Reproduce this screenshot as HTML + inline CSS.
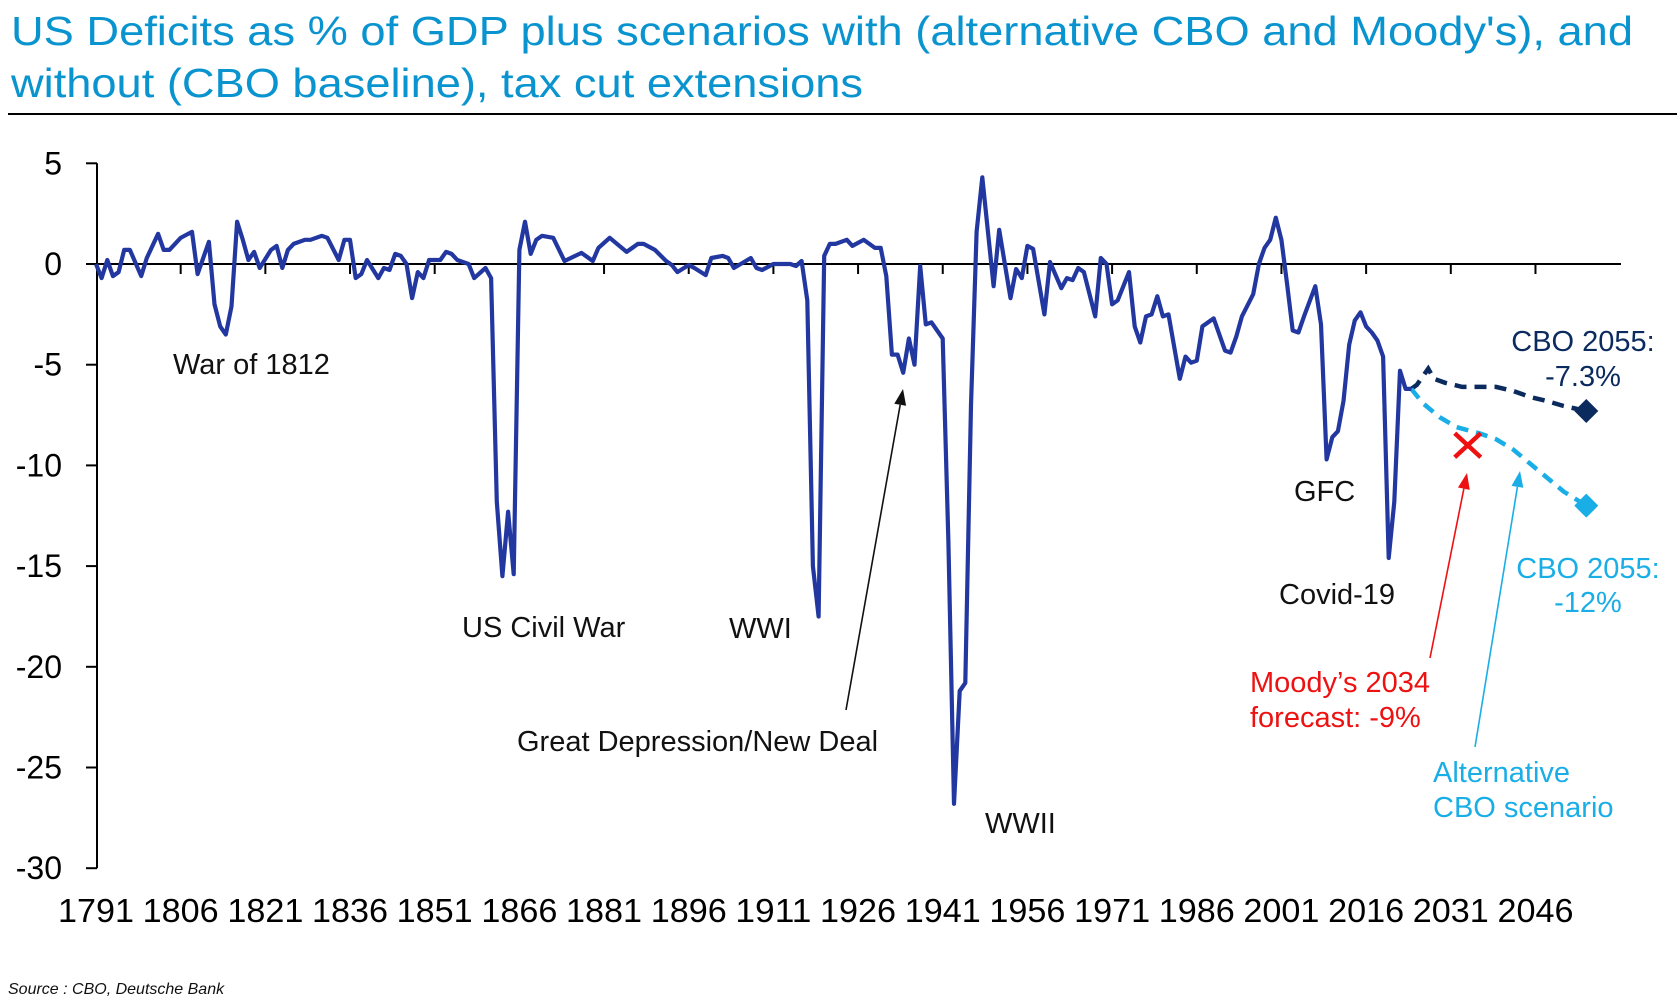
<!DOCTYPE html>
<html><head><meta charset="utf-8"><style>
html,body{margin:0;padding:0;background:#fff;}
svg{display:block;font-family:"Liberation Sans",sans-serif;}
</style></head><body>
<svg id="chart" width="1677" height="997" viewBox="0 0 1677 997" xmlns="http://www.w3.org/2000/svg">
<text x="11" y="45" font-size="41" fill="#0a94cf" textLength="1622" lengthAdjust="spacingAndGlyphs">US Deficits as % of GDP plus scenarios with (alternative CBO and Moody's), and</text>
<text x="11" y="97" font-size="41" fill="#0a94cf" textLength="852" lengthAdjust="spacingAndGlyphs">without (CBO baseline), tax cut extensions</text>
<line x1="8" y1="114" x2="1677" y2="114" stroke="#000" stroke-width="2"/>
<g id="axes"></g>
<g id="series"></g>
<g id="notes" font-size="29">
<text x="173" y="374" fill="#111">War of 1812</text>
<text x="462" y="637" fill="#111">US Civil War</text>
<text x="729" y="638" fill="#111">WWI</text>
<text x="517" y="751" fill="#111">Great Depression/New Deal</text>
<text x="985" y="833" fill="#111">WWII</text>
<text x="1294" y="501" fill="#111">GFC</text>
<text x="1279" y="604" fill="#111">Covid-19</text>
<text x="1583" y="351" text-anchor="middle" fill="#0b2a5e">CBO 2055:</text>
<text x="1583" y="386" text-anchor="middle" fill="#0b2a5e">-7.3%</text>
<text x="1588" y="578" text-anchor="middle" fill="#1aaee6">CBO 2055:</text>
<text x="1588" y="612" text-anchor="middle" fill="#1aaee6">-12%</text>
<text x="1250" y="692" fill="#ee1111">Moody’s 2034</text>
<text x="1250" y="727" fill="#ee1111">forecast: -9%</text>
<text x="1433" y="782" fill="#1aaee6">Alternative</text>
<text x="1433" y="817" fill="#1aaee6">CBO scenario</text>
</g>
<text x="8" y="994" font-size="16" font-style="italic" fill="#111">Source : CBO, Deutsche Bank</text>
</svg>
<script>
const histYears = [1791,1792,1793,1794,1795,1796,1797,1799,1800,1802,1803,1804,1806,1808,1809,1811,1812,1813,1814,1815,1816,1817,1818,1819,1820,1822,1823,1824,1825,1826,1828,1829,1831,1832,1834,1835,1836,1837,1838,1839,1841,1842,1843,1844,1845,1846,1847,1848,1849,1850,1852,1853,1854,1855,1857,1858,1860,1861,1862,1863,1864,1865,1866,1867,1868,1869,1870,1872,1874,1877,1879,1880,1882,1885,1887,1888,1890,1892,1893,1894,1896,1897,1899,1900,1902,1903,1904,1907,1908,1909,1911,1914,1915,1916,1917,1918,1919,1920,1921,1922,1924,1925,1927,1929,1930,1931,1932,1933,1934,1935,1936,1937,1938,1939,1941,1942,1943,1944,1945,1946,1947,1948,1950,1951,1953,1954,1955,1956,1957,1959,1960,1962,1963,1964,1965,1966,1968,1969,1970,1971,1972,1974,1975,1976,1977,1978,1979,1980,1981,1983,1984,1985,1986,1987,1989,1991,1992,1993,1994,1996,1997,1998,1999,2000,2001,2002,2003,2004,2005,2007,2008,2009,2010,2011,2012,2013,2014,2015,2016,2017,2018,2019,2020,2021,2022,2023,2024];
const histDeficit = [0,-0.7,0.2,-0.6,-0.4,0.7,0.7,-0.6,0.3,1.5,0.7,0.7,1.3,1.6,-0.5,1.1,-2,-3.1,-3.5,-2.1,2.1,1.2,0.2,0.6,-0.2,0.7,0.9,-0.2,0.7,1,1.2,1.2,1.4,1.3,0.2,1.2,1.2,-0.7,-0.5,0.2,-0.7,-0.2,-0.3,0.5,0.4,0,-1.7,-0.4,-0.7,0.2,0.2,0.6,0.5,0.2,0,-0.7,-0.2,-0.7,-11.8,-15.5,-12.3,-15.4,0.7,2.1,0.5,1.2,1.4,1.3,0.15,0.55,0.15,0.8,1.3,0.6,1.0,1.0,0.7,0.15,-0.05,-0.4,-0.05,-0.2,-0.55,0.3,0.4,0.3,-0.2,0.3,-0.2,-0.3,0,0,-0.1,0.15,-1.8,-15,-17.5,0.4,1.0,1.0,1.2,0.9,1.2,0.8,0.8,-0.6,-4.5,-4.5,-5.4,-3.7,-5.0,-0.1,-3.0,-2.9,-3.7,-13.8,-26.8,-21.2,-20.8,-7,1.6,4.3,-1.1,1.7,-1.7,-0.25,-0.7,0.9,0.75,-2.5,0.1,-1.2,-0.7,-0.8,-0.2,-0.4,-2.6,0.3,0,-2.0,-1.8,-0.4,-3.1,-3.9,-2.6,-2.5,-1.6,-2.6,-2.5,-5.7,-4.6,-4.9,-4.8,-3.1,-2.7,-4.3,-4.4,-3.6,-2.6,-1.5,0,0.8,1.2,2.3,1.2,-1.0,-3.3,-3.4,-2.6,-1.1,-3.0,-9.7,-8.6,-8.3,-6.8,-4.0,-2.8,-2.4,-3.1,-3.4,-3.8,-4.6,-14.6,-11.8,-5.3,-6.2,-6.2];
const projYears = [2024,2025,2027,2028,2030,2033,2036,2039,2042,2045,2048,2051,2055];
const cboBaseline = [-6.2,-6.0,-5.2,-5.7,-5.9,-6.1,-6.1,-6.1,-6.3,-6.6,-6.8,-7.05,-7.3];
const altYears = [2024,2026,2029,2032,2036,2039,2042,2045,2048,2051,2055];
const cboAlternative = [-6.2,-6.9,-7.6,-8.1,-8.4,-8.7,-9.2,-9.9,-10.6,-11.3,-12.0];
const moodysYear = [2034];
const moodysValue = [-9];
const yTicks = [5,0,-5,-10,-15,-20,-25,-30];
const xTickYears = [1791,1806,1821,1836,1851,1866,1881,1896,1911,1926,1941,1956,1971,1986,2001,2016,2031,2046];

const NS = "http://www.w3.org/2000/svg";
const X = yr => 96 + (yr - 1791) * 5.645;
const Y = v => 264 - v * 20.14;
function mk(tag, attrs, parent, txt){const e=document.createElementNS(NS,tag);for(const k in attrs)e.setAttribute(k,attrs[k]);if(txt!==undefined)e.textContent=txt;parent.appendChild(e);return e;}
const axes = document.getElementById('axes'), series = document.getElementById('series');

let e = mk('line',{x1:97,y1:Y(5),x2:97,y2:Y(-30),stroke:'#000','stroke-width':2},axes);


e = mk('line',{x1:97,y1:Y(0),x2:1621,y2:Y(0),stroke:'#000','stroke-width':2},axes);


yTicks.forEach(t=>{
  const tk = mk('line',{x1:86,y1:Y(t),x2:97,y2:Y(t),stroke:'#000','stroke-width':2},axes);
  
  
  const lb = mk('text',{x:62,y:Y(t)+11,'font-size':32,'text-anchor':'end',fill:'#000'},axes,String(t));
  
  
});
xTickYears.forEach(yr=>{
  if(yr>1791){
    const tk = mk('line',{x1:X(yr),y1:Y(0),x2:X(yr),y2:Y(0)+10,stroke:'#000','stroke-width':2},axes);
    
    
  }
  const lb = mk('text',{x:X(yr),y:922,'font-size':33,'text-anchor':'middle',fill:'#000',textLength:76,lengthAdjust:'spacingAndGlyphs'},axes,String(yr));
  
  
});
function pts(xs,vs){return xs.map((yr,i)=>X(yr).toFixed(1)+','+Y(vs[i]).toFixed(1)).join(' ');}
e = mk('polyline',{points:pts(projYears,cboBaseline),fill:'none',stroke:'#0b2a5e','stroke-width':4.5,'stroke-dasharray':'12 8'},series);


e = mk('polyline',{points:pts(altYears,cboAlternative),fill:'none',stroke:'#1aaee6','stroke-width':4.5,'stroke-dasharray':'12 8'},series);


e = mk('polyline',{points:pts(histYears,histDeficit),fill:'none',stroke:'#2238a0','stroke-width':4.2,'stroke-linejoin':'round'},series);


function diamond(yr,v,col,name){const cx=X(yr),cy=Y(v),r=12;
  const d=mk('polygon',{points:`${cx},${cy-r} ${cx+r},${cy} ${cx},${cy+r} ${cx-r},${cy}`,fill:col},series);
  
  }
diamond(projYears[projYears.length-1],cboBaseline[cboBaseline.length-1],'#0b2a5e','cbo-baseline-2055-marker');
diamond(altYears[altYears.length-1],cboAlternative[cboAlternative.length-1],'#1aaee6','cbo-alternative-2055-marker');
const mx=X(moodysYear[0]), my=Y(moodysValue[0]);
e = mk('path',{d:`M${mx-13},${my-12} L${mx+13},${my+12} M${mx+13},${my-12} L${mx-13},${my+12}`,stroke:'#ee1111','stroke-width':4.5},series);



function arrow(x1,y1,x2,y2,col,w,name){
  const g=mk('g',{},series);
  
  
  const a=Math.atan2(y2-y1,x2-x1),L=16,W=6;
  const bx=x2-L*Math.cos(a),by=y2-L*Math.sin(a);
  mk('line',{x1:x1,y1:y1,x2:bx,y2:by,stroke:col,'stroke-width':w},g);
  mk('polygon',{points:`${x2},${y2} ${bx+W*Math.sin(a)},${by-W*Math.cos(a)} ${bx-W*Math.sin(a)},${by+W*Math.cos(a)}`,fill:col},g);
}
arrow(846,710,903,389,'#111',1.6,'great-depression-arrow');
arrow(1430,658,1467,473,'#ee1111',1.6,'moodys-arrow');
arrow(1475,747,1520,471,'#1aaee6',1.6,'alternative-arrow');
</script>
</body></html>
